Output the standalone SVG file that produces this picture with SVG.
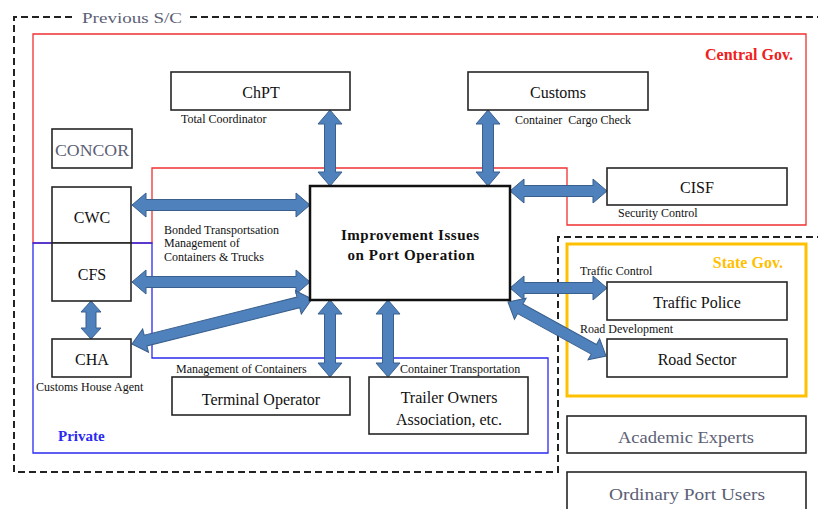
<svg xmlns="http://www.w3.org/2000/svg" width="818" height="509" viewBox="0 0 818 509">
<style>
.bx{fill:#fff;stroke:#262626;stroke-width:1.6}
.t{font-family:"Liberation Serif","Times New Roman",serif;fill:#111;text-anchor:middle}
.n{font-size:16px}
.s{font-size:12px;text-anchor:start}
.g{font-family:"Liberation Serif",serif;fill:#5c6075;font-size:16px;text-anchor:middle}
.ar{fill:#4f81bd;stroke:#3a5f8c;stroke-width:1}
</style>
<rect width="818" height="509" fill="#fff"/>
<g id="regions" fill="none">
<path d="M72,17 H14 V472 H558 V237 H818 M190,17 H818" stroke="#222" stroke-width="2" stroke-dasharray="7 4"/>
<path d="M33,243 V34 H806 V225 H567 V168 H152 V243 Z" stroke="#f03030" stroke-width="1.3"/>
<path d="M33,243 H152 V358 H548 V453 H33 Z" stroke="#2a2af0" stroke-width="1.3"/>
<rect x="567" y="244" width="239" height="152" stroke="#ffc000" stroke-width="3"/>
<text x="132" y="23" class="g" textLength="100" lengthAdjust="spacingAndGlyphs" style="font-size:15px">Previous S/C</text>
<text x="793" y="60" class="t" style="font-size:16px;font-weight:bold;fill:#f02020;text-anchor:end">Central Gov.</text>
<text x="783" y="268" class="t" style="font-size:16px;font-weight:bold;fill:#ffc000;text-anchor:end">State Gov.</text>
<text x="58" y="441" class="t" style="font-size:15px;font-weight:bold;fill:#2a2af0;text-anchor:start">Private</text>
</g>
<g id="connectors">
<path class="ar" d="M330,110 L342,124 L335.5,124 L335.5,172 L342,172 L330,186 L318,172 L324.5,172 L324.5,124 L318,124 Z"/>
<path class="ar" d="M488,110 L500,124 L493.5,124 L493.5,172 L500,172 L488,186 L476,172 L482.5,172 L482.5,124 L476,124 Z"/>
<path class="ar" d="M132,205 L146,193 L146,199.5 L296,199.5 L296,193 L310,205 L296,217 L296,210.5 L146,210.5 L146,217 Z"/>
<path class="ar" d="M132,282 L146,270 L146,276.5 L296,276.5 L296,270 L310,282 L296,294 L296,287.5 L146,287.5 L146,294 Z"/>
<path class="ar" d="M91,301 L101,312 L96,312 L96,328 L101,328 L91,339 L81,328 L86,328 L86,312 L81,312 Z"/>
<path class="ar" transform="translate(132,344) rotate(-14.04)" d="M0,0 L14,-12 L14,-5.5 L171.5,-5.5 L171.5,-12 L185.5,0 L171.5,12 L171.5,5.5 L14,5.5 L14,12 Z"/>
<path class="ar" d="M330,300 L342,314 L335.5,314 L335.5,363 L342,363 L330,377 L318,363 L324.5,363 L324.5,314 L318,314 Z"/>
<path class="ar" d="M388,300 L400,314 L393.5,314 L393.5,363 L400,363 L388,377 L376,363 L382.5,363 L382.5,314 L376,314 Z"/>
<path class="ar" d="M510,191 L524,179 L524,185.5 L593,185.5 L593,179 L607,191 L593,203 L593,196.5 L524,196.5 L524,203 Z"/>
<path class="ar" d="M510,288 L524,276 L524,282.5 L593,282.5 L593,276 L607,288 L593,300 L593,293.5 L524,293.5 L524,300 Z"/>
<path class="ar" transform="translate(508,302) rotate(28.86)" d="M0,0 L14,-12 L14,-5.5 L98,-5.5 L98,-12 L112,0 L98,12 L98,5.5 L14,5.5 L14,12 Z"/>
</g>
<g id="chpt"><rect class="bx" x="171" y="72" width="179" height="38"/><text class="t n" x="261" y="98">ChPT</text><text class="t s" x="181" y="123">Total Coordinator</text></g>
<g id="customs"><rect class="bx" x="468" y="72" width="180" height="38"/><text class="t n" x="558" y="98">Customs</text><text class="t s" x="515" y="124" xml:space="preserve">Container  Cargo Check</text></g>
<g id="concor"><rect class="bx" x="52" y="129" width="80" height="39"/><text class="g" x="92" y="156" textLength="74" lengthAdjust="spacingAndGlyphs">CONCOR</text></g>
<g id="cwc"><rect class="bx" x="52" y="187" width="79" height="56"/><text class="t n" x="92" y="223">CWC</text></g>
<g id="cfs"><rect class="bx" x="52" y="243" width="79" height="58"/><text class="t n" x="92" y="280">CFS</text></g>
<g id="bonded-label"><text class="t s" x="164" y="234">Bonded Transportsation</text><text class="t s" x="164" y="247">Management of</text><text class="t s" x="164" y="261">Containers &amp; Trucks</text></g>
<g id="cha"><rect class="bx" x="52" y="339" width="79" height="38"/><text class="t n" x="92" y="365">CHA</text><text class="t s" x="36" y="391">Customs House Agent</text></g>
<g id="center"><rect x="310" y="186" width="200" height="114" fill="#fff" stroke="#111" stroke-width="2.5"/><text class="t" x="410" y="240" style="font-size:15px;font-weight:bold" textLength="138" lengthAdjust="spacing">Improvement Issues</text><text class="t" x="411" y="260" style="font-size:15px;font-weight:bold" textLength="127" lengthAdjust="spacing">on Port Operation</text></g>
<g id="cisf"><rect class="bx" x="607" y="168" width="180" height="37"/><text class="t n" x="697" y="193">CISF</text><text class="t s" x="618" y="217">Security Control</text></g>
<g id="traffic-police"><rect class="bx" x="607" y="282" width="180" height="38"/><text class="t n" x="697" y="308">Traffic Police</text><text class="t s" x="580" y="275">Traffic Control</text></g>
<g id="road-sector"><rect class="bx" x="607" y="339" width="180" height="38"/><text class="t n" x="697" y="365">Road Sector</text><text class="t s" x="580" y="333">Road Development</text></g>
<g id="terminal"><rect class="bx" x="172" y="377" width="178" height="38"/><text class="t n" x="261" y="405">Terminal Operator</text><text class="t s" x="176" y="373">Management of Containers</text></g>
<g id="trailer"><rect class="bx" x="369" y="377" width="159" height="57"/><text class="t n" x="449" y="403">Trailer Owners</text><text class="t n" x="449" y="425">Association, etc.</text><text class="t s" x="400" y="373">Container Transportation</text></g>
<g id="academic"><rect class="bx" x="567" y="416" width="239" height="37"/><text class="g" x="686" y="443" textLength="136" lengthAdjust="spacingAndGlyphs">Academic Experts</text></g>
<g id="users"><rect class="bx" x="567" y="472" width="239" height="40"/><text class="g" x="687" y="500" textLength="156" lengthAdjust="spacingAndGlyphs">Ordinary Port Users</text></g>
</svg>
